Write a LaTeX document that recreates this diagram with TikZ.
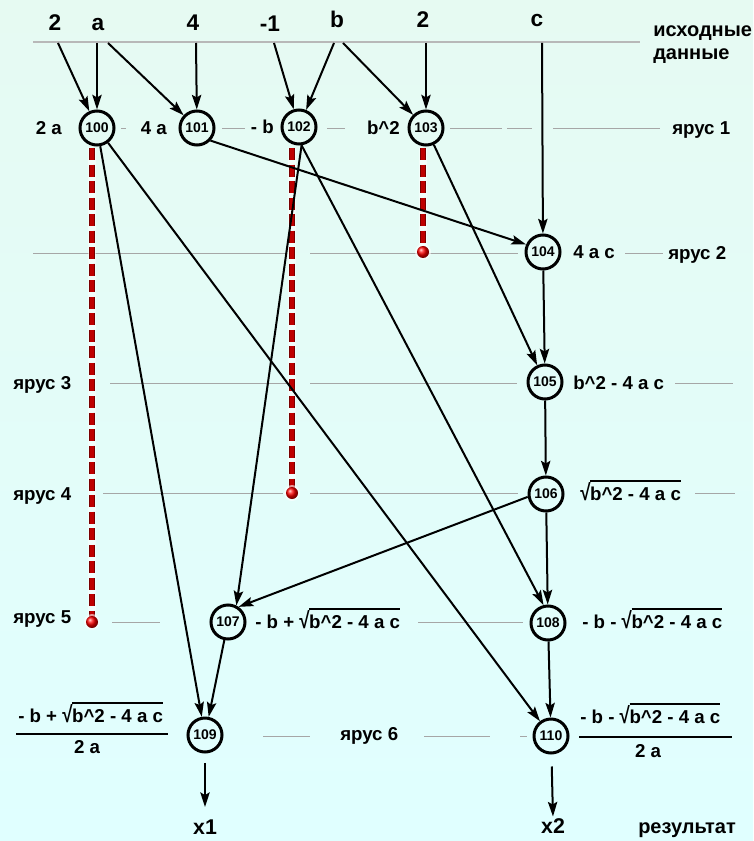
\documentclass[tikz,border=0pt]{standalone}
\usepackage{fontspec}
\setmainfont{Liberation Sans}
\usetikzlibrary{arrows.meta,calc}
\definecolor{bgtop}{RGB}{230,250,242}
\definecolor{bgbot}{RGB}{224,255,255}
\definecolor{dred}{RGB}{120,0,0}
\definecolor{mred}{RGB}{190,0,0}
\newsavebox\rtbox
\newcommand\myrt[1]{\sbox\rtbox{#1}\mbox{\raisebox{-0.05em}{\scalebox{1}[1.22]{√}}\kern-0.3pt\rlap{\rule[0.97em]{\wd\rtbox}{0.09em}}\usebox\rtbox}}
\begin{document}
\begin{tikzpicture}[x=0.75pt,y=-0.75pt,
  nd/.style={circle,draw,line width=2.25pt,minimum size=25.5pt,inner sep=0pt,font=\bfseries\fontsize{10.5}{10.5}\selectfont},
  lbl/.style={font=\bfseries\fontsize{14}{16}\selectfont,inner sep=0pt},
  inp/.style={font=\bfseries\fontsize{17}{19}\selectfont,inner sep=0pt,anchor=base},
  arr/.style={line width=1.5pt,-{Stealth[length=11pt,width=7pt,inset=2pt]}},
  gline/.style={draw=black!35,line width=0.7pt},
  halo/.style={draw=white,line width=6.5pt,opacity=0.55},
  rdash/.style={line width=3.8pt,dash pattern=on 9pt off 3.4pt},
]
\useasboundingbox (0,0) rectangle (753,841);
\shade[top color=bgtop,bottom color=bgbot] (0,0) rectangle (753,841);

% gray tier lines
\draw[draw=black!28,line width=1.2pt] (33,42) -- (640,42);
\foreach \a/\b in {121/126,222/245,327/345,450/502,507/532,553/660}
  \draw[gline] (\a,128) -- (\b,128);
\foreach \a/\b in {33/287,310/518,625/663}
  \draw[gline] (\a,253) -- (\b,253);
\foreach \a/\b in {110/288,310/517,675/733}
  \draw[gline] (\a,383) -- (\b,383);
\foreach \a/\b in {103/283,310/518,695/735}
  \draw[gline] (\a,493) -- (\b,493);
\foreach \a/\b in {112/160,418/523}
  \draw[gline] (\a,622) -- (\b,622);
\foreach \a/\b in {263/310,424/490,520/527}
  \draw[gline] (\a,736) -- (\b,736);

% input data
\node[inp] (i2a) at (55,31) {2};
\node[inp] (ia) at (98,31) {a};
\node[inp] (i4) at (193,31) {4};
\node[inp] (im1) at (270,32) {-1};
\node[inp] (ib) at (337,28) {b};
\node[inp] (i2b) at (423,28) {2};
\node[inp] (ic) at (537,27) {c};
\node[lbl,anchor=base west,font=\bfseries\fontsize{15}{17}\selectfont] (tisx) at (653,37) {исходные};
\node[lbl,anchor=base west,font=\bfseries\fontsize{15}{17}\selectfont] (tdan) at (653,60) {данные};

\coordinate (s2a) at (58,43);
\coordinate (sa1) at (97,43);
\coordinate (sa2) at (108,43);
\coordinate (s4) at (196,43);
\coordinate (sm1) at (274,43);
\coordinate (sb1) at (334,43);
\coordinate (sb2) at (343,43);
\coordinate (s2b) at (426,43);
\coordinate (sc) at (542,43);

% red dashed lifetime lines
\foreach \x/\ya/\yb in {92/148/622,292/148/493,423/148/252}{
  \draw[halo] (\x,\ya) -- (\x,\yb);
  \draw[rdash,draw=dred] (\x,\ya) -- (\x,\yb);
  \draw[rdash,draw=mred,line width=2.4pt] (\x,\ya) -- (\x,\yb);
  \fill[white,opacity=0.6] (\x,\yb) circle (6pt);
  \shade[ball color=red] (\x,\yb) circle (4.5pt);
}

% nodes
\node[nd] (n100) at (97,128) {100};
\node[nd] (n101) at (197,128) {101};
\node[nd] (n102) at (299,127) {102};
\node[nd] (n103) at (426,128) {103};
\node[nd] (n104) at (543,252) {104};
\node[nd] (n105) at (545,382) {105};
\node[nd] (n106) at (546,494) {106};
\node[nd] (n107) at (228,622) {107};
\node[nd] (n108) at (548,623) {108};
\node[nd] (n109) at (205,735) {109};
\node[nd] (n110) at (551,736) {110};

% node labels
\node[lbl,anchor=base east] (l100) at (62,135) {2 a};
\node[lbl,anchor=base east] (l101) at (167,135) {4 a};
\node[lbl,anchor=base east] (l102) at (274,134) {- b};
\node[lbl,anchor=base east] (l103) at (400,135) {b\textasciicircum 2};
\node[lbl,anchor=base west] (l104) at (573,259) {4 a c};
\node[lbl,anchor=base west] (l105) at (573,389) {b\textasciicircum 2 - 4 a c};
\node[lbl,anchor=base west] (l106) at (580,500) {\myrt{b\textasciicircum 2 - 4 a c}};
\node[lbl,anchor=base west] (l107) at (255,628) {- b + \myrt{b\textasciicircum 2 - 4 a c}};
\node[lbl,anchor=base west] (l108) at (582,628) {- b - \myrt{b\textasciicircum 2 - 4 a c}};

% fractions
\node[lbl,anchor=base west] (f1n) at (18,722) {- b + \myrt{b\textasciicircum 2 - 4 a c}};
\node[lbl,anchor=base] (f1d) at (87,753) {2 a};
\draw[line width=1.5pt] (16,734) -- (168,734);
\node[lbl,anchor=base west] (f2n) at (580,723) {- b - \myrt{b\textasciicircum 2 - 4 a c}};
\node[lbl,anchor=base] (f2d) at (648,757) {2 a};
\draw[line width=1.5pt] (579,737) -- (732,737);

% tier labels
\node[lbl,anchor=base west] (t1) at (672,135) {ярус 1};
\node[lbl,anchor=base west] (t2) at (668,260) {ярус 2};
\node[lbl,anchor=base west] (t3) at (13,389) {ярус 3};
\node[lbl,anchor=base west] (t4) at (13,500) {ярус 4};
\node[lbl,anchor=base west] (t5) at (13,623) {ярус 5};
\node[lbl,anchor=base west] (t6) at (340,740) {ярус 6};

% results
\node[inp,font=\bfseries\fontsize{16}{18}\selectfont] (x1) at (205,834) {x1};
\node[inp,font=\bfseries\fontsize{16}{18}\selectfont] (x2) at (553,833) {x2};
\node[lbl,anchor=base west,font=\bfseries\fontsize{15}{17}\selectfont] (tres) at (638,833) {результат};

% connectors
\draw[arr] (s2a) -- (n100);
\draw[arr] (sa1) -- (n100);
\draw[arr] (sa2) -- (n101);
\draw[arr] (s4) -- (n101);
\draw[arr] (sm1) -- (n102);
\draw[arr] (sb1) -- (n102);
\draw[arr] (sb2) -- (n103);
\draw[arr] (s2b) -- (n103);
\draw[arr] (sc) -- (n104);
\draw[arr] (n100) -- (n109);
\draw[arr] (n100) -- (n110);
\draw[arr] (n101.-43) -- (n104.156);
\draw[arr] (n102.-82) -- (n107.63);
\draw[arr] (n102.-82) -- (n108.104);
\draw[arr] (n103) -- (n105);
\draw[arr] (n104) -- (n105);
\draw[arr] (n105) -- (n106);
\draw[arr] (n106.-171) -- (n107.55);
\draw[arr] (n106) -- (n108);
\draw[arr] (n107) -- (n109);
\draw[arr] (n108) -- (n110);
\draw[arr,shorten <=7pt,shorten >=9pt] (n109) -- (x1.north);
\draw[arr,shorten <=9pt,shorten >=1pt] (n110) -- (x2.north);
\end{tikzpicture}
\end{document}
